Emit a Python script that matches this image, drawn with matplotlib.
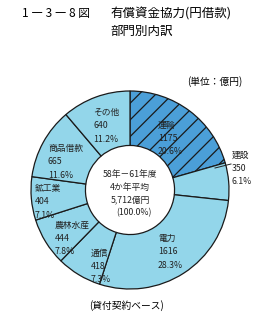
import matplotlib
matplotlib.use('Agg')
import matplotlib.pyplot as plt

plt.rcParams['font.family'] = ['Noto Sans CJK JP', 'DejaVu Sans']
plt.rcParams['hatch.linewidth'] = 0.9
plt.rcParams['hatch.color'] = '#1a1a1a'

# data (clockwise from top)
sectors = ['運輸', '建設', '電力', '通信', '農林水産', '鉱工業', '商品借款', 'その他']
amounts = [1175, 350, 1616, 418, 444, 404, 665, 640]
shares = ['20.6%', '6.1%', '28.3%', '7.3%', '7.8%', '7.1%', '11.6%', '11.2%']
center_lines = ['58年－61年度', '4か年平均', '5,712億円', '(100.0%)']

W, H = 274, 323
fig = plt.figure(figsize=(W / 100, H / 100), dpi=100)
fig.patch.set_facecolor('white')

cx, cy, r = 130, 190, 99
ax = fig.add_axes([(cx - r) / W, (H - cy - r) / H, 2 * r / W, 2 * r / H])

light = '#93d6ea'
dark = '#4b9fd8'
colors = [dark] + [light] * (len(amounts) - 1)
wedges, _ = ax.pie(amounts, startangle=90, counterclock=False, colors=colors,
                   radius=1, wedgeprops=dict(width=0.55, edgecolor='#1a1a1a', linewidth=0.9))
wedges[0].set_hatch('//')
ax.set_xlim(-1, 1)
ax.set_ylim(-1, 1)
ax.axis('off')


def px(x, y):
    return (x - cx) / r, (cy - y) / r


fs = 6.3
# label positions in pixels (left edge, top line)
label_pos = {
    '運輸': (158, 125),
    '建設': (232, 155),
    '電力': (158, 238),
    '通信': (91, 253),
    '農林水産': (55, 225),
    '鉱工業': (35, 188),
    '商品借款': (48, 148),
    'その他': (93, 112),
}
for name, amt, sh in zip(sectors, amounts, shares):
    lx, ly = label_pos[name]
    for i, t in enumerate([name, str(amt), sh]):
        x, y = px(lx, ly + i * 13.5)
        ax.text(x, y, t, fontsize=fs, ha='left', va='center', color='#222222')

# leader line for 建設
x0, y0 = px(215, 168)
x1, y1 = px(231, 164)
ax.plot([x0, x1], [y0, y1], color='#222222', lw=0.7, clip_on=False)

for i, t in enumerate(center_lines):
    x, y = px(130 if i < 3 else 134, 175 + i * 12.5)
    ax.text(x, y, t, fontsize=fs, ha='center', va='center', color='#222222')

fig.text(22 / W, 1 - 14 / H, '1 ― 3 ― 8 図', fontsize=8.5, ha='left', va='center')
fig.text(110 / W, 1 - 14 / H, '有償資金協力(円借款)', fontsize=9, ha='left', va='center')
fig.text(110 / W, 1 - 31 / H, '部門別内訳', fontsize=9, ha='left', va='center')
fig.text(215 / W, 1 - 82 / H, '(単位：億円)', fontsize=7, ha='center', va='center')
fig.text(126 / W, 1 - 306 / H, '(貸付契約ベース)', fontsize=7, ha='center', va='center')

fig.savefig('out.png', dpi=100)
